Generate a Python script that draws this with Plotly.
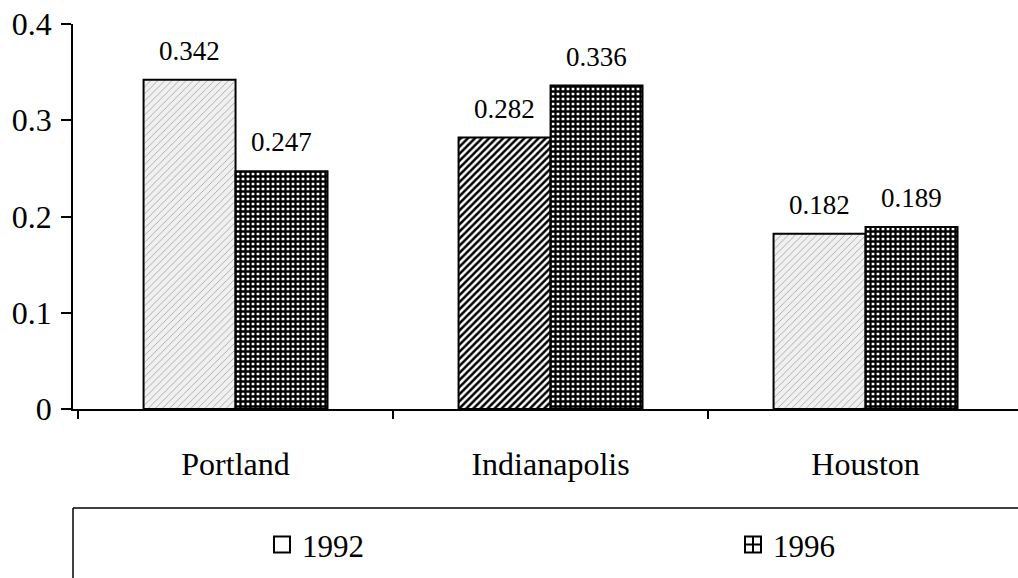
import plotly.graph_objects as go

cities = ["Portland", "Indianapolis", "Houston"]
values_1992 = [0.342, 0.282, 0.182]
values_1996 = [0.247, 0.336, 0.189]
y_ticks = [0, 0.1, 0.2, 0.3, 0.4]
y_tick_text = ["0", "0.1", "0.2", "0.3", "0.4"]

FONT = "Liberation Serif"
BAR_W = 0.292
CAT_PX = 315  # pixel width of one category slot

# per-bar fills for the 1992 series
shapes_1992 = ["/", "/", "/"]
fg_1992 = ["#9a9a9a", "#000000", "#9a9a9a"]
bg_1992 = ["#f0f0f0", "#ffffff", "#f0f0f0"]
sol_1992 = [0.15, 0.5, 0.15]

brick = dict(shape="+", fgcolor="#000000", bgcolor="#ffffff", size=5, solidity=0.7, fillmode="replace")

fig = go.Figure()

fig.add_trace(go.Bar(
    x=cities, y=values_1992, name="1992", showlegend=False,
    width=BAR_W, offset=-BAR_W,
    marker=dict(
        color="white",
        line=dict(color="black", width=2),
        pattern=dict(shape=shapes_1992, fgcolor=fg_1992, bgcolor=bg_1992,
                     size=5, solidity=sol_1992, fillmode="replace"),
    ),
))
fig.add_trace(go.Bar(
    x=cities, y=values_1996, name="1996", showlegend=False,
    width=BAR_W, offset=0,
    marker=dict(color="white", line=dict(color="black", width=2), pattern=brick),
))

# legend entries (one per legend box so they can sit far apart)
fig.add_trace(go.Scatter(x=[None], y=[None], mode="markers", name="1992", legend="legend",
                         marker=dict(symbol="square-open", size=16, color="black",
                                     line=dict(color="black", width=2))))
fig.add_trace(go.Scatter(x=[None], y=[None], mode="markers", name="1996", legend="legend2",
                         marker=dict(symbol="square-cross-open", size=16, color="black",
                                     line=dict(color="black", width=2))))

# value labels above each bar
label_font = dict(family=FONT, size=27, color="black")
for c, v in zip(cities, values_1992):
    fig.add_annotation(x=c, y=v, text=f"{v:.3f}", showarrow=False, xshift=-BAR_W * CAT_PX / 2,
                       yanchor="bottom", yshift=12, font=label_font)
for c, v in zip(cities, values_1996):
    fig.add_annotation(x=c, y=v, text=f"{v:.3f}", showarrow=False, xshift=BAR_W * CAT_PX / 2,
                       yanchor="bottom", yshift=12, font=label_font)

# legend frame: top and left edges
fig.add_shape(type="line", xref="paper", yref="paper", x0=0, x1=1, y0=-0.257, y1=-0.257,
              line=dict(color="black", width=1.5))
fig.add_shape(type="line", xref="paper", yref="paper", x0=0, x1=0, y0=-0.257, y1=-0.45,
              line=dict(color="black", width=1.5))

legend_font = dict(family=FONT, size=31, color="black")
big_font = dict(family=FONT, size=32, color="black")

fig.update_layout(
    width=1018, height=578,
    margin=dict(l=73, r=0, t=24, b=169),
    paper_bgcolor="white", plot_bgcolor="white",
    barmode="overlay",
    font=dict(family=FONT, color="black"),
    showlegend=True,
    legend=dict(orientation="h", x=(262 - 73) / 945, xanchor="left", y=-0.353, yanchor="middle",
                font=legend_font, bgcolor="rgba(0,0,0,0)"),
    legend2=dict(orientation="h", x=(733 - 73) / 945, xanchor="left", y=-0.353, yanchor="middle",
                 font=legend_font, bgcolor="rgba(0,0,0,0)"),
    xaxis=dict(
        type="category", range=[-0.516, 2.484],
        showline=True, linecolor="black", linewidth=1.5,
        ticks="outside", tickson="boundaries", ticklen=8, tickcolor="black", tickwidth=1.5,
        ticklabelstandoff=26,
        tickfont=big_font,
        showgrid=False, zeroline=False,
    ),
    yaxis=dict(
        range=[0, 0.4], tickvals=y_ticks, ticktext=y_tick_text,
        showline=True, linecolor="black", linewidth=1.5,
        ticks="outside", ticklen=10, tickcolor="black", tickwidth=1.5,
        ticklabelstandoff=3,
        tickfont=big_font,
        showgrid=False, zeroline=False,
    ),
)

fig.write_html("out.html")
